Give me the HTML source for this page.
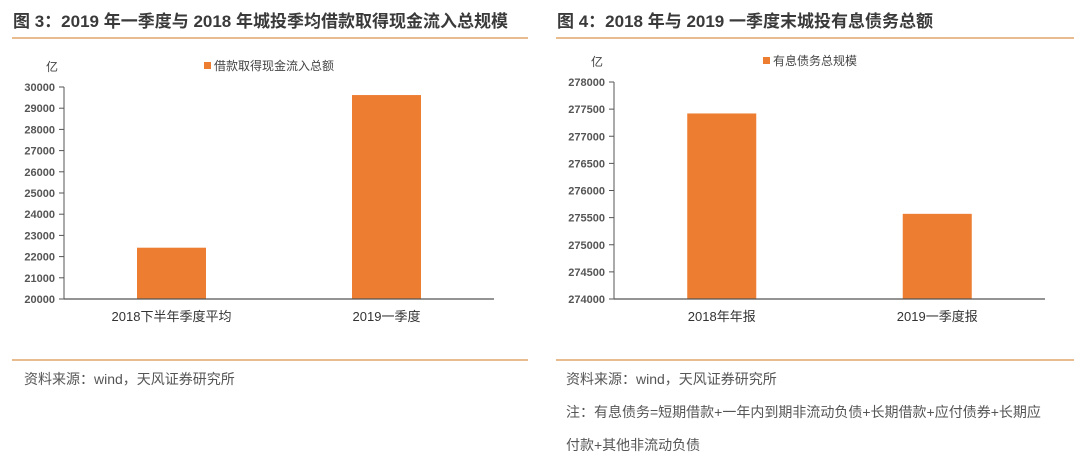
<!DOCTYPE html>
<html><head><meta charset="utf-8"><style>
body{margin:0;width:1080px;height:458px;background:#fff;overflow:hidden;font-family:"Liberation Sans","Noto Sans CJK SC",sans-serif}
svg{position:absolute;left:0;top:0}
</style></head><body>
<svg id="c" width="1080" height="458">
<text x="13" y="27" font-size="17" font-weight="bold" fill="#3a3a3a">图 3：2019 年一季度与 2018 年城投季均借款取得现金流入总规模</text>
<line x1="12" y1="38" x2="528" y2="38" stroke="#e0a56a" stroke-width="1.5"/>
<text x="557" y="27" font-size="17" font-weight="bold" fill="#3a3a3a">图 4：2018 年与 2019 一季度末城投有息债务总额</text>
<line x1="556" y1="38" x2="1074" y2="38" stroke="#e0a56a" stroke-width="1.5"/>
<line x1="12" y1="360" x2="528" y2="360" stroke="#e0a56a" stroke-width="1.5"/>
<line x1="556" y1="360" x2="1074" y2="360" stroke="#e0a56a" stroke-width="1.5"/>
<text x="24" y="384" font-size="14" fill="#555">资料来源：wind，天风证券研究所</text>
<text x="566" y="384" font-size="14" fill="#555">资料来源：wind，天风证券研究所</text>
<text x="566" y="417" font-size="14" fill="#555">注：有息债务=短期借款+一年内到期非流动负债+长期借款+应付债券+长期应</text>
<text x="566" y="450" font-size="14" fill="#555">付款+其他非流动负债</text>
</svg>
<script>
const cats1=["2018下半年季度平均","2019一季度"];
const vals1=[22420,29620];
const ticks1=[20000,21000,22000,23000,24000,25000,26000,27000,28000,29000,30000];
const legend1="借款取得现金流入总额";
const cats2=["2018年年报","2019一季度报"];
const vals2=[277420,275570];
const ticks2=[274000,274500,275000,275500,276000,276500,277000,277500,278000];
const legend2="有息债务总规模";
const svg=document.getElementById('c');const NS="http://www.w3.org/2000/svg";
function el(t,a,txt){const e=document.createElementNS(NS,t);for(const k in a)e.setAttribute(k,a[k]);if(txt!==undefined)e.textContent=txt;svg.appendChild(e);return e;}
function chart(p,cats,vals,ticks,leg,x0,x1,yTop,yBot,bw,unitX,legX){
  const mn=ticks[0],mx=ticks[ticks.length-1];
  const y=v=>yBot-(v-mn)/(mx-mn)*(yBot-yTop);
  const band=(x1-x0)/cats.length;
  const xc=i=>x0+band*(i+0.5);
  let e=el('text',{x:unitX,y:yTop-16,'font-size':12,fill:'#444','text-anchor':'middle'},'亿');
  
  e=el('rect',{x:legX,y:yTop-25,width:7,height:7,fill:'#ed7d31'});
  
  e=el('text',{x:legX+10,y:yTop-17,'font-size':12,fill:'#444'},leg);
  
  e=el('line',{x1:x0,y1:yTop,x2:x0,y2:yBot,stroke:'#555','stroke-width':1});
  
  ticks.forEach(t=>{
    const yy=y(t);
    let l=el('line',{x1:x0-5,y1:yy,x2:x0,y2:yy,stroke:'#555'});
    
    let tx=el('text',{x:x0-9,y:yy+4,'font-size':11,'font-weight':'bold',fill:'#555','text-anchor':'end'},String(t));
    
  });
  vals.forEach((v,i)=>{
    let r=el('rect',{x:xc(i)-bw/2,y:y(v),width:bw,height:yBot-y(v),fill:'#ed7d31'});
    
    let tx=el('text',{x:xc(i),y:yBot+22,'font-size':13,fill:'#333','text-anchor':'middle'},cats[i]);
    
  });
  e=el('line',{x1:x0,y1:yBot,x2:x1,y2:yBot,stroke:'#555','stroke-width':1.2});
  
}
chart('chart3',cats1,vals1,ticks1,legend1,64,494,87,299,69,52,204);
chart('chart4',cats2,vals2,ticks2,legend2,614,1045,82,299,69,597,763);
</script>
</body></html>
